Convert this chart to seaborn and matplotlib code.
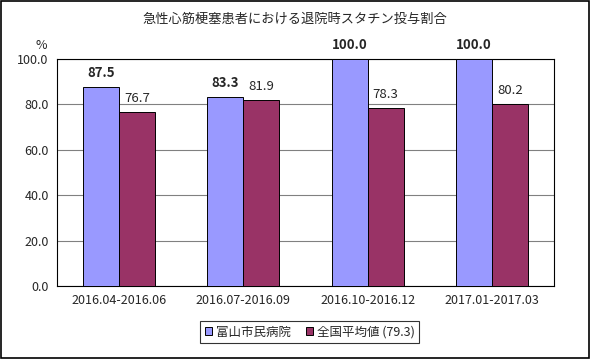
import pandas as pd
import matplotlib.pyplot as plt
import seaborn as sns

periods = ['2016.04-2016.06', '2016.07-2016.09', '2016.10-2016.12', '2017.01-2017.03']
hospital = [87.5, 83.3, 100.0, 100.0]
national = [76.7, 81.9, 78.3, 80.2]
series_names = ['富山市民病院', '全国平均値 (79.3)']

df = pd.DataFrame({
    'period': periods * 2,
    'value': hospital + national,
    'series': [series_names[0]] * 4 + [series_names[1]] * 4,
})

sns.set_style('white')
plt.rcParams['font.family'] = ['Noto Sans CJK JP', 'DejaVu Sans']

fig = plt.figure(figsize=(5.9, 3.59), dpi=100)
ax = fig.add_axes([0.0966, 0.2033, 0.8424, 0.6324])

sns.barplot(data=df, x='period', y='value', hue='series',
            palette=['#9999FF', '#993366'], saturation=1, width=0.58, gap=0,
            edgecolor='black', linewidth=0.7, ax=ax, legend=True, zorder=3)

ax.set_ylim(0, 100)
ax.set_yticks(range(0, 101, 20))
ax.set_yticklabels([f'{v:.1f}' for v in range(0, 101, 20)], fontsize=9)
ax.tick_params(axis='x', labelsize=9, length=0, pad=6)
ax.tick_params(axis='y', length=0, pad=6)
ax.set_xticks([0.5, 1.5, 2.5], minor=True)
ax.tick_params(axis='x', which='minor', direction='in', length=4, width=0.6)
ax.yaxis.grid(True, color='#808080', linewidth=0.8, zorder=0)
ax.set_axisbelow(True)
ax.set_xlabel('')
ax.set_ylabel('')
for s in ax.spines.values():
    s.set_color('black')
    s.set_linewidth(0.8)

for cont, bold in zip(ax.containers, [True, False]):
    ax.bar_label(cont, fmt='%.1f', padding=5, fontsize=9.5,
                 fontweight='bold' if bold else 'normal', clip_on=False)

ax.text(-0.02, 1.03, '%', transform=ax.transAxes, fontsize=9, ha='right', va='bottom')

fig.text(0.5, 0.945, '急性心筋梗塞患者における退院時スタチン投与割合', ha='center', va='center', fontsize=9.5)

leg = ax.legend(loc='center', bbox_to_anchor=(0.5250, 0.0752), bbox_transform=fig.transFigure,
                ncol=2, frameon=True, fancybox=False, fontsize=9,
                handlelength=0.6, handleheight=0.6, handletextpad=0.3, columnspacing=1.2,
                borderpad=0.35)
leg.get_frame().set_edgecolor('black')
leg.get_frame().set_linewidth(0.8)

fig.patches.append(plt.Rectangle((0.001, 0.002), 0.997, 0.995, transform=fig.transFigure,
                                 fill=False, edgecolor='black', linewidth=1.2))

fig.savefig('out.png', dpi=100)
